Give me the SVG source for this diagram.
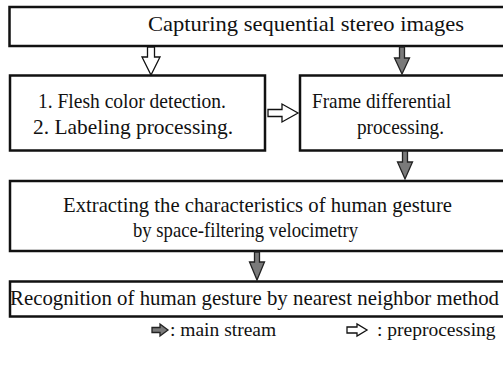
<svg xmlns="http://www.w3.org/2000/svg" width="503" height="366" viewBox="0 0 503 366">
<style>
.box{fill:#fff;stroke:#111;stroke-width:2.5}
.t{font-family:"Liberation Serif","Times New Roman",serif;font-size:21px;fill:#111}
.lg{font-family:"Liberation Serif","Times New Roman",serif;font-size:19.5px;fill:#111}
.hollow{fill:#fff;stroke:#111;stroke-width:1.3;stroke-linejoin:miter}
.dark{fill:#7a7a7a;stroke:#222;stroke-width:1.3;stroke-linejoin:miter}
</style>
<rect width="503" height="366" fill="#fff"/>
<g id="n1"><rect class="box" x="9.5" y="7" width="500" height="39"/>
<text class="t" x="148" y="31" textLength="316" lengthAdjust="spacingAndGlyphs">Capturing sequential stereo images</text></g>
<g id="n2"><rect class="box" x="10" y="75.5" width="255" height="75"/>
<text class="t" x="38" y="108" textLength="188" lengthAdjust="spacingAndGlyphs">1. Flesh color detection.</text>
<text class="t" x="33" y="134" textLength="200" lengthAdjust="spacingAndGlyphs">2. Labeling processing.</text></g>
<g id="n3"><rect class="box" x="300" y="75.5" width="210" height="75"/>
<text class="t" x="312" y="108" textLength="139" lengthAdjust="spacingAndGlyphs">Frame differential</text>
<text class="t" x="357" y="134" textLength="87" lengthAdjust="spacingAndGlyphs">processing.</text></g>
<g id="n4"><rect class="box" x="10" y="181" width="500" height="70"/>
<text class="t" x="63" y="212" textLength="389" lengthAdjust="spacingAndGlyphs">Extracting the characteristics of human gesture</text>
<text class="t" x="133" y="237" textLength="225" lengthAdjust="spacingAndGlyphs">by space-filtering velocimetry</text></g>
<g id="n5"><rect class="box" x="10" y="281.5" width="500" height="35"/>
<text class="t" x="10" y="305" textLength="489" lengthAdjust="spacingAndGlyphs">Recognition of human gesture by nearest neighbor method</text></g>
<g id="connectors">
<polygon class="hollow" points="147.5,47 154.5,47 154.5,57 160,57 151,75 142,57 147.5,57"/>
<polygon class="dark" points="399.5,47 404.5,47 404.5,58 409.5,58 402,74 394.5,58 399.5,58"/>
<polygon class="hollow" points="268,109.5 282,109.5 282,104 298,113 282,122 282,116.5 268,116.5"/>
<polygon class="dark" points="402.5,151 407.5,151 407.5,162 412.5,162 405,179 397.5,162 402.5,162"/>
<polygon class="dark" points="254.5,252 259.5,252 259.5,262 264.5,262 257,280 249.5,262 254.5,262"/>
</g>
<g id="legend">
<polygon class="dark" points="152,327.5 160,327.5 160,324 168,330 160,336 160,332.5 152,332.5"/>
<text class="lg" x="170" y="336">: main stream</text>
<polygon class="hollow" points="347,327 357,327 357,324 367,330 357,336 357,333 347,333"/>
<text class="lg" x="377" y="336">: preprocessing</text>
</g>
</svg>
